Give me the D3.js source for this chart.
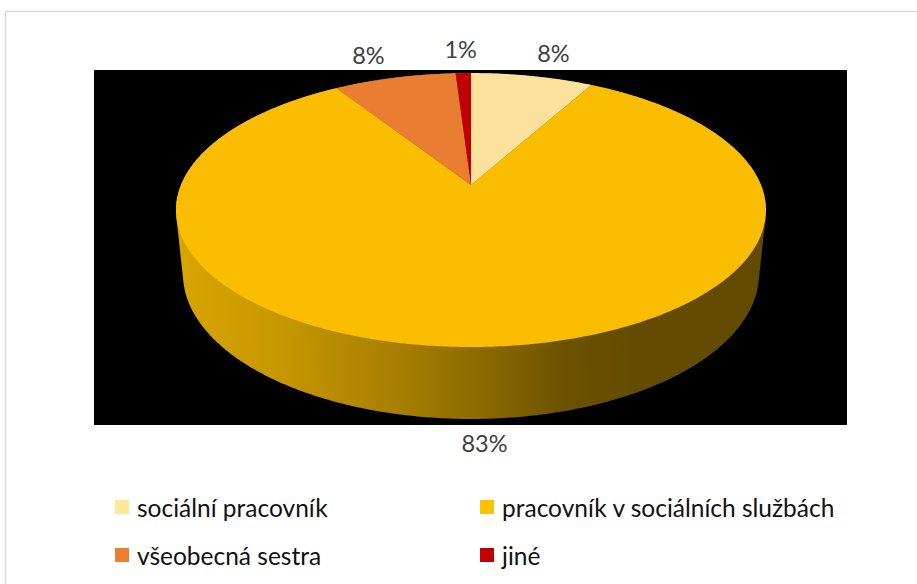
<!DOCTYPE html>
<html>
<head>
<meta charset="utf-8">
<script src="https://cdn.jsdelivr.net/npm/d3@7"></script>
<style>
  body { margin: 0; background: #fff; }
  svg { display: block; }
</style>
</head>
<body>
<svg id="chart" width="917" height="584"></svg>
<script>
// Professions of respondents (share of answers, %)
const categories = ["sociální pracovník", "pracovník v sociálních službách", "všeobecná sestra", "jiné"];
const shares = [8, 83, 8, 1];
const shareLabels = ["8%", "83%", "8%", "1%"];

const topColors = ["#FAE29C", "#FABD00", "#E97D31", "#C00000"];
const legendColors = ["#FFE699", "#FFC000", "#ED7D31", "#C00000"];

const svg = d3.select("#chart");

// outer chart frame
svg.append("rect")
  .attr("x", 5.5).attr("y", 11.5)
  .attr("width", 1000).attr("height", 1000)
  .attr("fill", "#fff").attr("stroke", "#d9d9d9").attr("stroke-width", 1.5);

// plot area
svg.append("rect")
  .attr("x", 94).attr("y", 70)
  .attr("width", 753).attr("height", 355)
  .attr("fill", "#000");

// perspective view of a flat cylinder (radius 1, thickness `depth`)
const view = { cx: 471, cy: 185, f: 1411.6, d: 4.867, tilt: 27.16 * Math.PI / 180, depth: 0.249 };
function project(phi, r, y) {
  const X = r * Math.sin(phi), Z = -r * Math.cos(phi);
  const s = Math.sin(view.tilt), c = Math.cos(view.tilt);
  const w = view.d - y * s - Z * c;
  return [view.cx + view.f * X / w, view.cy - view.f * (y * c - Z * s) / w];
}

const pie = d3.pie().sort(null).value(d => d);
const arcs = pie(shares);

// side wall: hull of top and bottom rims
const rim = [];
for (let i = 0; i < 720; i++) {
  const a = i / 720 * 2 * Math.PI;
  rim.push(project(a, 1, 0));
  rim.push(project(a, 1, -view.depth));
}
const hull = d3.polygonHull(rim);

const defs = svg.append("defs");
const grad = defs.append("linearGradient")
  .attr("id", "sideShade")
  .attr("gradientUnits", "userSpaceOnUse")
  .attr("x1", 176).attr("x2", 766).attr("y1", 0).attr("y2", 0);
[[0, "#D8A600"], [0.18, "#C69700"], [0.38, "#A67E00"], [0.52, "#8C6A00"], [0.66, "#6C5200"], [0.78, "#634B00"], [1, "#624A00"]]
  .forEach(([o, c]) => grad.append("stop").attr("offset", o).attr("stop-color", c));

const line = d3.line();
svg.append("path")
  .attr("d", line(hull) + "Z")
  .attr("fill", "url(#sideShade)");

// top face slices
function slicePath(a) {
  const pts = [project(0, 0, 0)];
  const n = Math.max(4, Math.ceil((a.endAngle - a.startAngle) / 0.01));
  for (let i = 0; i <= n; i++) {
    const t = a.startAngle + (a.endAngle - a.startAngle) * i / n;
    pts.push(project(t, 1, 0));
  }
  return line(pts) + "Z";
}
svg.append("g").selectAll("path")
  .data(arcs)
  .join("path")
  .attr("d", slicePath)
  .attr("fill", (d, i) => topColors[i]);

// data labels, placed just outside each slice's rim
svg.append("g").selectAll("text")
  .data(arcs)
  .join("text")
  .each(function (a, i) {
    const mid = (a.startAngle + a.endAngle) / 2;
    const front = Math.cos(mid) < 0;
    const p = project(mid, 1, front ? -view.depth : 0);
    d3.select(this)
      .attr("x", p[0] + 85 * Math.sin(mid))
      .attr("y", p[1] - 24 * Math.cos(mid))
      .text(shareLabels[i]);
  })
  .attr("text-anchor", "middle")
  .attr("dominant-baseline", "central")
  .attr("font-family", "Lato, 'Open Sans', sans-serif")
  .attr("font-size", 23.5)
  .attr("fill", "#404040");

// legend (two columns)
const legendX = d3.scalePoint().domain([0, 1]).range([115, 480]);
const legendY = d3.scalePoint().domain([0, 1]).range([507, 555]);
const legend = svg.append("g").selectAll("g")
  .data(categories)
  .join("g")
  .attr("transform", (d, i) => `translate(${legendX(i % 2)},${legendY(Math.floor(i / 2))})`);
legend.append("rect")
  .attr("x", 0).attr("y", -7)
  .attr("width", 14).attr("height", 14)
  .attr("fill", (d, i) => legendColors[i]);
legend.append("text")
  .attr("x", 22).attr("y", 0)
  .attr("dominant-baseline", "central")
  .attr("font-family", "Lato, 'Open Sans', sans-serif")
  .attr("font-size", 24.5)
  .attr("fill", "#111")
  .text(d => d);
</script>
</body>
</html>
